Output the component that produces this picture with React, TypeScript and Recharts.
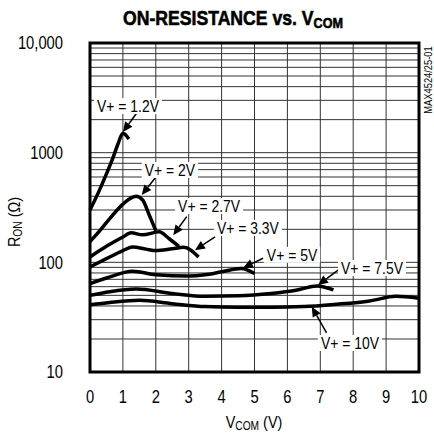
import React from 'react'
import { LineChart, Line, XAxis, YAxis, CartesianGrid, ReferenceLine, ReferenceDot, ReferenceArea } from 'recharts'

// axis ticks
const xTicks = [0, 1, 2, 3, 4, 5, 6, 7, 8, 9, 10]
const yTicks = [10, 100, 1000, 10000]
const yTickLabels = ['10', '100', '1000', '10,000']
const minorGrid = [20, 30, 40, 50, 60, 70, 80, 90, 200, 300, 400, 500, 600, 700, 800, 900, 2000, 3000, 4000, 5000, 6000, 7000, 8000, 9000]

// R_ON (ohm) vs V_COM (V)
const vPlus12 = [
  { x: 0, y: 300 }, { x: 0.25, y: 430 }, { x: 0.5, y: 640 }, { x: 0.7, y: 900 },
  { x: 0.85, y: 1200 }, { x: 1.0, y: 1500 }, { x: 1.18, y: 1330 },
]
const vPlus2 = [
  { x: 0, y: 155 }, { x: 0.3, y: 195 }, { x: 0.6, y: 250 }, { x: 1.0, y: 340 },
  { x: 1.4, y: 400 }, { x: 1.6, y: 370 }, { x: 1.8, y: 270 }, { x: 2.0, y: 195 },
]
const vPlus27 = [
  { x: 0, y: 112 }, { x: 0.5, y: 140 }, { x: 1.0, y: 170 }, { x: 1.25, y: 186 },
  { x: 1.6, y: 178 }, { x: 2.1, y: 190 }, { x: 2.4, y: 165 }, { x: 2.7, y: 140 },
]
const vPlus33 = [
  { x: 0, y: 91 }, { x: 0.5, y: 108 }, { x: 1.0, y: 128 }, { x: 1.3, y: 138 },
  { x: 1.7, y: 132 }, { x: 2.0, y: 128 }, { x: 2.5, y: 133 }, { x: 2.85, y: 137 }, { x: 3.3, y: 112 },
]
const vPlus5 = [
  { x: 0, y: 64 }, { x: 0.5, y: 72 }, { x: 1.3, y: 83 }, { x: 2.0, y: 77 }, { x: 3.0, y: 75 },
  { x: 3.5, y: 77 }, { x: 4.0, y: 82 }, { x: 4.6, y: 88 }, { x: 5.0, y: 79 },
]
const vPlus75 = [
  { x: 0, y: 50 }, { x: 0.6, y: 54 }, { x: 1.4, y: 57 }, { x: 2.5, y: 52 }, { x: 3.5, y: 49 },
  { x: 4.5, y: 49.5 }, { x: 5.5, y: 52 }, { x: 6.3, y: 56 }, { x: 6.9, y: 61 }, { x: 7.4, y: 56 },
]
const vPlus10 = [
  { x: 0, y: 41 }, { x: 0.6, y: 43 }, { x: 1.5, y: 45 }, { x: 2.5, y: 42 }, { x: 3.5, y: 39.5 },
  { x: 4.5, y: 39 }, { x: 5.5, y: 39 }, { x: 6.5, y: 39.5 }, { x: 7.5, y: 41.5 }, { x: 8.5, y: 44.5 },
  { x: 9.3, y: 49 }, { x: 10, y: 47 },
]

const seriesList = [vPlus12, vPlus2, vPlus27, vPlus33, vPlus5, vPlus75, vPlus10]

// callouts: label centre, arrow start and arrow tip, in data units
const callouts = [
  { text: 'V+ = 1.2V', lx: 1.155, ly: 2660, from: [1.42, 2300], tip: [1.0, 1540] },
  { text: 'V+ = 2V', lx: 2.43, ly: 695, from: [1.98, 588], tip: [1.57, 411] },
  { text: 'V+ = 2.7V', lx: 3.62, ly: 326, from: [2.94, 261], tip: [2.53, 177] },
  { text: 'V+ = 3.3V', lx: 4.8, ly: 206, from: [3.8, 171], tip: [3.19, 129] },
  { text: 'V+ = 5V', lx: 6.14, ly: 117, from: [5.26, 109], tip: [4.65, 88.7] },
  { text: 'V+ = 7.5V', lx: 8.57, ly: 88.8, from: [7.54, 85], tip: [6.93, 62] },
  { text: 'V+ = 10V', lx: 7.9, ly: 18.4, from: [7.19, 22.7], tip: [6.74, 39.4] },
]

// no narrow font installed, so squeeze Liberation Sans horizontally
const font = '"Liberation Sans", Arial, sans-serif'
const SQ = 0.82

const charW: Record<string, number> = { V: 0.667, '+': 0.584, ' ': 0.278, '=': 0.584, '.': 0.278 }
const textWidth = (s: string, size: number) =>
  s.split('').reduce((acc, ch) => acc + (charW[ch] ?? 0.556), 0) * size * SQ

const XTick = (props: any) => {
  const { x, y, payload } = props
  return (
    <text transform={`translate(${x},${y}) scale(${SQ},1)`} textAnchor="middle" dy="0.71em" fontFamily={font} fontSize={18} fill="#000">
      {payload.value}
    </text>
  )
}

const YTick = (props: any) => {
  const { x, y, payload } = props
  const label = yTickLabels[yTicks.indexOf(payload.value)] ?? String(payload.value)
  return (
    <text transform={`translate(${x},${y}) scale(${SQ},1)`} textAnchor="end" dy="0.355em" fontFamily={font} fontSize={18} fill="#000">
      {label}
    </text>
  )
}

const Arrow = (props: any) => {
  const { x1, y1, x2, y2 } = props
  const dx = x2 - x1
  const dy = y2 - y1
  const len = Math.sqrt(dx * dx + dy * dy) || 1
  const ux = dx / len
  const uy = dy / len
  const hl = 10
  const hw = 4.5
  const bx = x2 - ux * hl
  const by = y2 - uy * hl
  return (
    <g>
      <line x1={x1} y1={y1} x2={bx} y2={by} stroke="#000" strokeWidth={1.5} />
      <polygon
        points={`${x2},${y2} ${bx - uy * hw},${by + ux * hw} ${bx + uy * hw},${by - ux * hw}`}
        fill="#000"
      />
    </g>
  )
}

const calloutLabel = (text: string) => (props: any) => {
  const { cx, cy } = props
  const w = textWidth(text, 17) + 6
  return (
    <g>
      <rect x={cx - w / 2} y={cy - 8} width={w} height={16} fill="#fff" />
      <text transform={`translate(${cx},${cy + 6}) scale(${SQ},1)`} textAnchor="middle" fontFamily={font} fontSize={17} fill="#000">
        {text}
      </text>
    </g>
  )
}

export default function App() {
  return (
    <div style={{ position: 'absolute', left: 0, top: 0, width: 434, height: 436, background: '#fff' }}>
      <LineChart width={434} height={436} margin={{ top: 43, right: 15, bottom: 34, left: 0 }}>
        <CartesianGrid
          stroke="#333"
          strokeWidth={1}
          horizontalValues={[...minorGrid, ...yTicks]}
          verticalValues={xTicks}
        />
        <XAxis
          dataKey="x"
          type="number"
          domain={[0, 10]}
          ticks={xTicks}
          axisLine={false}
          tickLine={false}
          tickSize={6}
          tickMargin={12}
          height={30}
          interval={0}
          tick={<XTick />}
        />
        <YAxis
          type="number"
          scale="log"
          domain={[10, 10000]}
          allowDataOverflow
          ticks={yTicks}
          axisLine={false}
          tickLine={false}
          tickSize={6}
          tickMargin={21}
          width={90}
          interval={0}
          tick={<YTick />}
        />
        {seriesList.map((s, i) => (
          <Line
            key={i}
            data={s}
            dataKey="y"
            type="monotone"
            stroke="#000"
            strokeWidth={3.5}
            dot={false}
            isAnimationActive={false}
          />
        ))}
        {callouts.map((c) => (
          <ReferenceDot key={'l' + c.text} x={c.lx} y={c.ly} r={1} shape={calloutLabel(c.text)} />
        ))}
        {callouts.map((c) => (
          <ReferenceLine
            key={'a' + c.text}
            segment={[{ x: c.from[0], y: c.from[1] }, { x: c.tip[0], y: c.tip[1] }]}
            shape={Arrow}
          />
        ))}
        <ReferenceArea x1={0} x2={10} y1={10} y2={10000} fill="none" fillOpacity={0} stroke="#000" strokeWidth={3} />
      </LineChart>
      <svg width={434} height={436} style={{ position: 'absolute', left: 0, top: 0, pointerEvents: 'none' }}>
        <text transform="translate(233,25) scale(0.84,1)" textAnchor="middle" fontFamily={font} fontWeight="bold" fontSize={21} fill="#000" stroke="#000" strokeWidth={0.6}>
          ON-RESISTANCE vs. V<tspan fontSize={15} dy={3}>COM</tspan>
        </text>
        <text transform="translate(20,222) rotate(-90) scale(0.85,1)" textAnchor="middle" fontFamily={font} fontSize={17} fill="#000">
          R<tspan fontSize={12} dy={2}>ON</tspan>
          <tspan dy={-2}> (Ω)</tspan>
        </text>
        <text transform="translate(254,428) scale(0.85,1)" textAnchor="middle" fontFamily={font} fontSize={17} fill="#000">
          V<tspan fontSize={12} dy={2}>COM</tspan>
          <tspan dy={-2}> (V)</tspan>
        </text>
        <text transform="translate(432,80) rotate(-90) scale(0.85,1)" textAnchor="middle" fontFamily={font} fontSize={11} fill="#000">
          MAX4524/25-01
        </text>
      </svg>
    </div>
  )
}
